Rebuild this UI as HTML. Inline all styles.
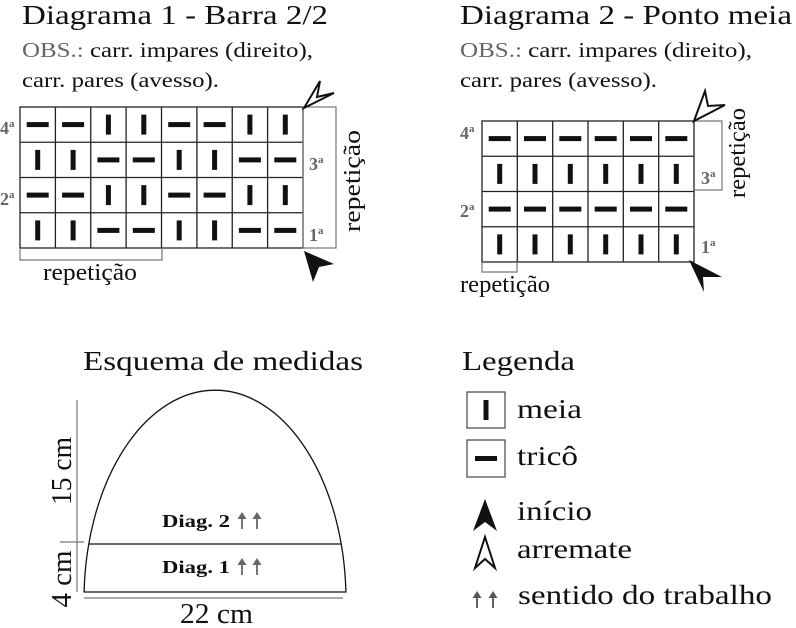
<!DOCTYPE html>
<html><head><meta charset="utf-8"><style>
html,body{margin:0;padding:0;background:#fff;}
svg{display:block;}
text{font-family:"Liberation Serif",serif;}
</style></head><body>
<svg width="796" height="628" viewBox="0 0 796 628" xmlns="http://www.w3.org/2000/svg">
<defs>
<rect id="V" x="-2.5" y="-10" width="5" height="20" fill="#111"/>
<rect id="H" x="-11" y="-2.5" width="22" height="5" fill="#111"/>
</defs>
<!-- Titles -->
<text x="22" y="24" font-size="27" fill="#111" textLength="306" lengthAdjust="spacingAndGlyphs">Diagrama 1 - Barra 2/2</text>
<text x="22" y="57" font-size="21" textLength="291" lengthAdjust="spacingAndGlyphs"><tspan fill="#666">OBS.:</tspan><tspan fill="#111"> carr. impares (direito),</tspan></text>
<text x="22" y="87" font-size="21" fill="#111" textLength="197" lengthAdjust="spacingAndGlyphs">carr. pares (avesso).</text>
<text x="460" y="24" font-size="27" fill="#111" textLength="332" lengthAdjust="spacingAndGlyphs">Diagrama 2 - Ponto meia</text>
<text x="460" y="57" font-size="21" textLength="292" lengthAdjust="spacingAndGlyphs"><tspan fill="#666">OBS.:</tspan><tspan fill="#111"> carr. impares (direito),</tspan></text>
<text x="460" y="87" font-size="21" fill="#111" textLength="197" lengthAdjust="spacingAndGlyphs">carr. pares (avesso).</text>

<!-- Diagram 1 grid -->
<g stroke="#222" stroke-width="1.3" fill="none">
<rect x="20" y="107" width="283" height="141"/>
<line x1="55.4" y1="107" x2="55.4" y2="248"/><line x1="90.75" y1="107" x2="90.75" y2="248"/>
<line x1="126.1" y1="107" x2="126.1" y2="248"/><line x1="161.5" y1="107" x2="161.5" y2="248"/>
<line x1="196.9" y1="107" x2="196.9" y2="248"/><line x1="232.25" y1="107" x2="232.25" y2="248"/>
<line x1="267.6" y1="107" x2="267.6" y2="248"/>
<line x1="20" y1="142.25" x2="303" y2="142.25"/><line x1="20" y1="177.5" x2="303" y2="177.5"/>
<line x1="20" y1="212.75" x2="303" y2="212.75"/>
</g>
<g stroke="#777" stroke-width="1.2" fill="none">
<rect x="303" y="107" width="33" height="141"/>
<polyline points="20,248 20,260 162,260 162,248"/>
</g>
<use href="#H" x="37.7" y="124.6"/><use href="#H" x="73.1" y="124.6"/><use href="#V" x="108.4" y="124.6"/><use href="#V" x="143.8" y="124.6"/>
<use href="#H" x="179.2" y="124.6"/><use href="#H" x="214.6" y="124.6"/><use href="#V" x="249.9" y="124.6"/><use href="#V" x="285.3" y="124.6"/>
<use href="#V" x="37.7" y="159.9"/><use href="#V" x="73.1" y="159.9"/><use href="#H" x="108.4" y="159.9"/><use href="#H" x="143.8" y="159.9"/>
<use href="#V" x="179.2" y="159.9"/><use href="#V" x="214.6" y="159.9"/><use href="#H" x="249.9" y="159.9"/><use href="#H" x="285.3" y="159.9"/>
<use href="#H" x="37.7" y="195.1"/><use href="#H" x="73.1" y="195.1"/><use href="#V" x="108.4" y="195.1"/><use href="#V" x="143.8" y="195.1"/>
<use href="#H" x="179.2" y="195.1"/><use href="#H" x="214.6" y="195.1"/><use href="#V" x="249.9" y="195.1"/><use href="#V" x="285.3" y="195.1"/>
<use href="#V" x="37.7" y="230.4"/><use href="#V" x="73.1" y="230.4"/><use href="#H" x="108.4" y="230.4"/><use href="#H" x="143.8" y="230.4"/>
<use href="#V" x="179.2" y="230.4"/><use href="#V" x="214.6" y="230.4"/><use href="#H" x="249.9" y="230.4"/><use href="#H" x="285.3" y="230.4"/>
<g font-size="18" font-weight="bold" fill="#666">
<text x="0" y="134">4<tspan font-size="11" dy="-7">a</tspan></text>
<text x="0" y="205">2<tspan font-size="11" dy="-7">a</tspan></text>
<text x="309" y="170">3<tspan font-size="11" dy="-7">a</tspan></text>
<text x="309" y="241">1<tspan font-size="11" dy="-7">a</tspan></text>
</g>
<text x="0" y="0" font-size="24" fill="#111" text-anchor="middle" textLength="102" lengthAdjust="spacingAndGlyphs" transform="translate(360,181) rotate(-90)">repetição</text>
<text x="43" y="280" font-size="24" fill="#111" textLength="94" lengthAdjust="spacingAndGlyphs">repetição</text>
<polygon points="304,108 320,81 317,97 334,93" fill="#fff" stroke="#111" stroke-width="2"/>
<polygon points="304,251 334,264 319,267 313,282" fill="#111"/>

<!-- Diagram 2 grid -->
<g stroke="#222" stroke-width="1.3" fill="none">
<rect x="482" y="121" width="212" height="141"/>
<line x1="517.3" y1="121" x2="517.3" y2="262"/><line x1="552.7" y1="121" x2="552.7" y2="262"/>
<line x1="588" y1="121" x2="588" y2="262"/><line x1="623.3" y1="121" x2="623.3" y2="262"/>
<line x1="658.7" y1="121" x2="658.7" y2="262"/>
<line x1="482" y1="156.25" x2="694" y2="156.25"/><line x1="482" y1="191.5" x2="694" y2="191.5"/>
<line x1="482" y1="226.75" x2="694" y2="226.75"/>
</g>
<g stroke="#777" stroke-width="1.2" fill="none">
<polyline points="694,121 722,121 722,190 694,190"/>
<polyline points="482,262 482,272 517,272 517,262"/>
</g>
<use href="#H" x="499.7" y="138.6"/><use href="#H" x="535" y="138.6"/><use href="#H" x="570.3" y="138.6"/><use href="#H" x="605.7" y="138.6"/><use href="#H" x="641" y="138.6"/><use href="#H" x="676.3" y="138.6"/>
<use href="#V" x="499.7" y="173.9"/><use href="#V" x="535" y="173.9"/><use href="#V" x="570.3" y="173.9"/><use href="#V" x="605.7" y="173.9"/><use href="#V" x="641" y="173.9"/><use href="#V" x="676.3" y="173.9"/>
<use href="#H" x="499.7" y="209.1"/><use href="#H" x="535" y="209.1"/><use href="#H" x="570.3" y="209.1"/><use href="#H" x="605.7" y="209.1"/><use href="#H" x="641" y="209.1"/><use href="#H" x="676.3" y="209.1"/>
<use href="#V" x="499.7" y="244.4"/><use href="#V" x="535" y="244.4"/><use href="#V" x="570.3" y="244.4"/><use href="#V" x="605.7" y="244.4"/><use href="#V" x="641" y="244.4"/><use href="#V" x="676.3" y="244.4"/>
<g font-size="18" font-weight="bold" fill="#666">
<text x="460" y="139">4<tspan font-size="11" dy="-7">a</tspan></text>
<text x="460" y="217">2<tspan font-size="11" dy="-7">a</tspan></text>
<text x="701" y="184">3<tspan font-size="11" dy="-7">a</tspan></text>
<text x="701" y="253">1<tspan font-size="11" dy="-7">a</tspan></text>
</g>
<text x="0" y="0" font-size="24" fill="#111" text-anchor="middle" textLength="90" lengthAdjust="spacingAndGlyphs" transform="translate(745,153) rotate(-90)">repetição</text>
<text x="460" y="292" font-size="24" fill="#111" textLength="90" lengthAdjust="spacingAndGlyphs">repetição</text>
<polygon points="694,121 705,91 708,106 725,105" fill="#fff" stroke="#111" stroke-width="2"/>
<polygon points="689,260 722,277 703,277 704,292" fill="#111"/>

<!-- Hat -->
<text x="83" y="370" font-size="27" fill="#111" textLength="280" lengthAdjust="spacingAndGlyphs">Esquema de medidas</text>
<path d="M84.1,592 A131 210 0 0 1 345.9,592 Z" fill="none" stroke="#111" stroke-width="1.3"/>
<line x1="89" y1="544" x2="341" y2="544" stroke="#111" stroke-width="1.3"/>
<g stroke="#777" stroke-width="1.2">
<line x1="77" y1="400" x2="77" y2="592"/>
<line x1="60" y1="542" x2="84" y2="542"/>
<line x1="84" y1="598" x2="343" y2="598"/>
</g>
<text x="0" y="0" font-size="29" fill="#111" text-anchor="middle" textLength="68" lengthAdjust="spacingAndGlyphs" transform="translate(71,471) rotate(-90)">15 cm</text>
<text x="0" y="0" font-size="29" fill="#111" text-anchor="middle" textLength="57" lengthAdjust="spacingAndGlyphs" transform="translate(71,579) rotate(-90)">4 cm</text>
<text x="180" y="623" font-size="29" fill="#111" textLength="73" lengthAdjust="spacingAndGlyphs">22 cm</text>
<text x="162" y="527" font-size="18" font-weight="bold" fill="#111" textLength="68" lengthAdjust="spacingAndGlyphs">Diag. 2</text>
<text x="162" y="573" font-size="18" font-weight="bold" fill="#111" textLength="68" lengthAdjust="spacingAndGlyphs">Diag. 1</text>
<g fill="#666" stroke="#666" stroke-width="1.8">
<line x1="242" y1="529" x2="242" y2="518"/><polygon points="237.5,519 242,512 246.5,519" stroke="none"/>
<line x1="257" y1="529" x2="257" y2="518"/><polygon points="252.5,519 257,512 261.5,519" stroke="none"/>
<line x1="242" y1="575" x2="242" y2="564"/><polygon points="237.5,565 242,558 246.5,565" stroke="none"/>
<line x1="257" y1="575" x2="257" y2="564"/><polygon points="252.5,565 257,558 261.5,565" stroke="none"/>
</g>

<!-- Legend -->
<text x="462" y="370" font-size="27" fill="#111" textLength="113" lengthAdjust="spacingAndGlyphs">Legenda</text>
<rect x="467" y="392" width="38" height="36" fill="none" stroke="#444" stroke-width="1.2"/>
<rect x="467" y="440" width="38" height="37" fill="none" stroke="#444" stroke-width="1.2"/>
<use href="#V" x="486" y="410"/>
<use href="#H" x="486" y="458.5"/>
<text x="517" y="418" font-size="27" fill="#111" textLength="65" lengthAdjust="spacingAndGlyphs">meia</text>
<text x="517" y="465" font-size="27" fill="#111" textLength="61" lengthAdjust="spacingAndGlyphs">tricô</text>
<polygon points="485,499 497,531 485,522 473,531" fill="#111"/>
<text x="517" y="520" font-size="27" fill="#111" textLength="75" lengthAdjust="spacingAndGlyphs">início</text>
<polygon points="485,537 495,568 485,559 475,568" fill="#fff" stroke="#111" stroke-width="2"/>
<text x="517" y="558" font-size="27" fill="#111" textLength="115" lengthAdjust="spacingAndGlyphs">arremate</text>
<g fill="#555" stroke="#555" stroke-width="1.8">
<line x1="477" y1="608" x2="477" y2="597"/><polygon points="472.5,598 477,591 481.5,598" stroke="none"/>
<line x1="493" y1="608" x2="493" y2="597"/><polygon points="488.5,598 493,591 497.5,598" stroke="none"/>
</g>
<text x="518" y="604" font-size="27" fill="#111" textLength="254" lengthAdjust="spacingAndGlyphs">sentido do trabalho</text>
</svg>
</body></html>
